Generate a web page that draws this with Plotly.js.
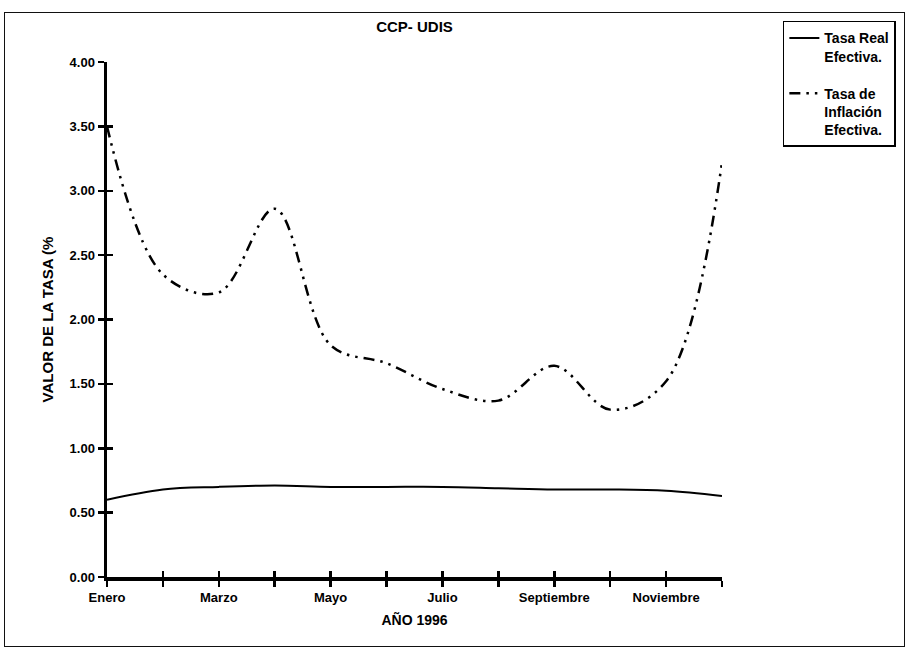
<!DOCTYPE html>
<html>
<head>
<meta charset="utf-8">
<script src="https://cdn.plot.ly/plotly-3.0.1.min.js"></script>
<style>
  html, body { margin: 0; padding: 0; background: #ffffff; }
  #wrap { position: relative; width: 908px; height: 650px; }
  #chart { position: absolute; left: 0; top: 0; width: 908px; height: 650px; }
  #frame { position: absolute; left: 4px; top: 12px; width: 901px; height: 635px;
           border: 1.5px solid #111; box-sizing: border-box; pointer-events: none; }
</style>
</head>
<body>
<div id="wrap">
  <div id="chart"></div>
  <div id="frame"></div>
</div>
<script>
// ---- data ----
const months = ["Enero", "Febrero", "Marzo", "Abril", "Mayo", "Junio",
                "Julio", "Agosto", "Septiembre", "Octubre", "Noviembre", "Diciembre"];
const tickLabels = ["Enero", "", "Marzo", "", "Mayo", "", "Julio", "", "Septiembre", "", "Noviembre", ""];
const tasaReal = [0.60, 0.68, 0.70, 0.71, 0.70, 0.70, 0.70, 0.69, 0.68, 0.68, 0.67, 0.63];
const tasaInflacion = [3.50, 2.35, 2.21, 2.86, 1.80, 1.66, 1.46, 1.37, 1.64, 1.30, 1.52, 3.22];
const yTicks = [0, 0.5, 1, 1.5, 2, 2.5, 3, 3.5, 4];

const FONT = "Liberation Sans, Arial, Helvetica, sans-serif";
const xIdx = months.map((m, i) => i);

const traces = [
  {
    x: xIdx, y: tasaReal, type: "scatter", mode: "lines",
    name: "Tasa Real<br>Efectiva.", legendgroup: "a",
    line: { color: "#000", width: 2, shape: "spline", smoothing: 1 },
    hoverinfo: "skip"
  },
  {
    x: xIdx, y: tasaInflacion, type: "scatter", mode: "lines",
    name: "Tasa de<br>Inflación<br>Efectiva.", legendgroup: "b",
    line: { color: "#000", width: 2.5, shape: "spline", smoothing: 1,
            dash: "11px,6px,2.5px,6px,2.5px,6px" },
    hoverinfo: "skip"
  },
  {
    // invisible helper so the second (tick-only) axes are drawn
    x: xIdx, y: tasaReal, type: "scatter", mode: "lines",
    xaxis: "x2", yaxis: "y2", showlegend: false, opacity: 0,
    line: { width: 0 }, hoverinfo: "skip"
  }
];

const baseX = {
  range: [0, months.length - 1], tickmode: "array",
  tickvals: xIdx, showgrid: false, zeroline: false,
  linecolor: "#000", tickcolor: "#000", ticklen: 6, tickwidth: 2.5
};
const baseY = {
  range: [0, 4], tickmode: "array", tickvals: yTicks,
  showgrid: false, zeroline: false,
  linecolor: "#000", tickcolor: "#000", ticklen: 6, tickwidth: 2.5
};

const layout = {
  width: 908, height: 650,
  margin: { l: 107, r: 182, t: 62, b: 73 },
  paper_bgcolor: "#fff", plot_bgcolor: "#fff",
  font: { family: FONT, color: "#000", size: 13, weight: 700 },
  title: {
    text: "CCP- UDIS",
    font: { family: FONT, size: 15, color: "#000", weight: 700 },
    x: 0.5, xanchor: "center", xref: "paper",
    y: 1, yref: "container", yanchor: "top", pad: { t: 21 }
  },
  xaxis: Object.assign({}, baseX, {
    ticktext: tickLabels, ticks: "outside",
    showline: true, linewidth: 3.5,
    tickfont: { family: FONT, size: 13, color: "#000", weight: 700 },
    title: { text: "AÑO 1996", standoff: 12,
             font: { family: FONT, size: 14, color: "#000", weight: 700 } }
  }),
  yaxis: Object.assign({}, baseY, {
    ticks: "outside", showline: true, linewidth: 3.5,
    tickformat: ".2f",
    tickfont: { family: FONT, size: 13, color: "#000", weight: 700 },
    title: { text: "VALOR DE LA TASA (%", standoff: 13,
             font: { family: FONT, size: 15, color: "#000", weight: 700 } }
  }),
  xaxis2: Object.assign({}, baseX, {
    overlaying: "x", anchor: "y2", side: "bottom",
    ticks: "inside", showticklabels: false, showline: false
  }),
  yaxis2: Object.assign({}, baseY, {
    overlaying: "y", anchor: "x2", side: "left",
    ticks: "inside", showticklabels: false, showline: false
  }),
  showlegend: true,
  legend: {
    x: 1.2827, xanchor: "right", xref: "paper",
    y: 1.08, yanchor: "top", yref: "paper",
    bgcolor: "#fff", bordercolor: "#000", borderwidth: 1.5,
    font: { family: FONT, size: 14, color: "#000", weight: 700 },
    traceorder: "grouped", tracegroupgap: 16, valign: "top",
    itemwidth: 30
  }
};

Plotly.newPlot("chart", traces, layout, { displayModeBar: false, staticPlot: true });
</script>
</body>
</html>
